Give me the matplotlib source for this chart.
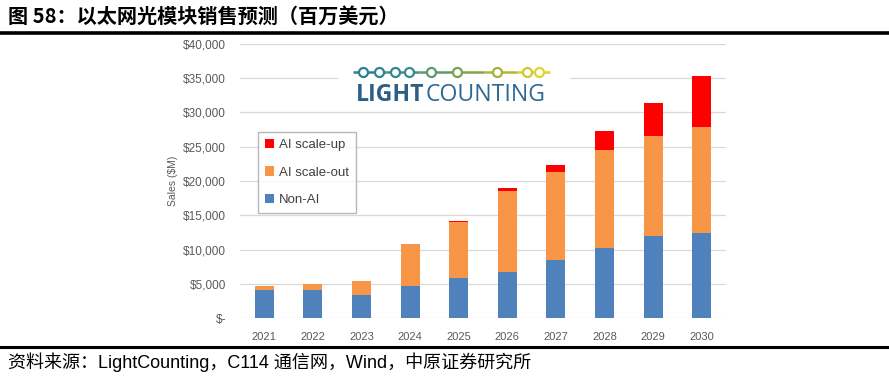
import numpy as np
import matplotlib.pyplot as plt
from matplotlib.patches import Rectangle

plt.rcParams['font.family'] = ['Liberation Sans', 'Noto Sans CJK SC', 'DejaVu Sans']

years = ['2021', '2022', '2023', '2024', '2025', '2026', '2027', '2028', '2029', '2030']
non_ai = [4100, 4150, 3300, 4650, 5800, 6700, 8500, 10200, 12000, 12400]
scale_out = [500, 850, 2150, 6100, 8200, 11900, 12850, 14300, 14600, 15500]
scale_up = [0, 0, 0, 100, 100, 450, 1000, 2750, 4800, 7400]

c_blue = '#4f81bd'
c_orange = '#f79646'
c_red = '#ff0000'
grey = '#595959'

W, H = 889, 380
fig = plt.figure(figsize=(W / 100, H / 100), dpi=100)

ax = fig.add_axes([240 / W, (H - 318) / H, (726 - 240) / W, (318 - 44) / H])
x = np.arange(len(years))
bw = 0.39
b1 = ax.bar(x, non_ai, bw, color=c_blue, zorder=3, label='Non-AI')
b2 = ax.bar(x, scale_out, bw, bottom=non_ai, color=c_orange, zorder=3, label='AI scale-out')
b3 = ax.bar(x, scale_up, bw, bottom=np.array(non_ai) + np.array(scale_out),
            color=c_red, zorder=3, label='AI scale-up')

ax.set_xlim(-0.5, len(years) - 0.5)
ax.set_ylim(0, 40000)
ticks = np.arange(0, 40001, 5000)
ax.set_yticks(ticks)
ax.set_yticklabels(['$-' if t == 0 else '${:,}'.format(t) for t in ticks])
ax.set_xticks(x)
ax.set_xticklabels(years)
ax.grid(axis='y', color='#d9d9d9', linewidth=0.9, zorder=0)
for s in ax.spines.values():
    s.set_visible(False)
ax.tick_params(length=0, labelsize=8.5, colors=grey)
ax.tick_params(axis='y', pad=10)
ax.tick_params(axis='x', pad=10, labelsize=8)
ax.set_ylabel('Sales ($M)', fontsize=7.5, color=grey, labelpad=4)

leg = ax.legend(handles=[b3, b2, b1], loc='upper left', bbox_to_anchor=(0.037, 0.68),
                borderaxespad=0, fontsize=9.5, frameon=True, fancybox=False, edgecolor='#a6a6a6',
                handlelength=0.7, handleheight=0.7, handletextpad=0.35,
                labelspacing=1.15, borderpad=0.55)
leg.get_frame().set_linewidth(1.0)
for t in leg.get_texts():
    t.set_color('#404040')

# overlay in pixel coordinates for header, footer and logo
ov = fig.add_axes([0, 0, 1, 1], zorder=5)
ov.set_xlim(0, W)
ov.set_ylim(H, 0)
ov.axis('off')
ov.patch.set_alpha(0)

ov.text(8, 16, '图 58：以太网光模块销售预测（百万美元）', fontsize=14.5, fontweight='bold',
        va='center', ha='left', family=['Noto Sans CJK SC'])
ov.plot([0, W], [32.5, 32.5], color='black', linewidth=2.6)
ov.plot([0, W], [347, 347], color='black', linewidth=2.2)
ov.text(8, 362, '资料来源：LightCounting，C114 通信网，Wind，中原证券研究所', fontsize=13,
        va='center', ha='left')

# LightCounting logo
ov.add_patch(Rectangle((338, 58), 232, 48, facecolor='white', edgecolor='none'))
line_x = [353, 550]
seg_cols = ['#2b7f97', '#3f8e8a', '#5e9a66', '#83a548', '#b1b835', '#dcd22a']
xs = np.linspace(line_x[0], line_x[1], len(seg_cols) + 1)
for i, col in enumerate(seg_cols):
    ov.plot([xs[i], xs[i + 1]], [71.5, 71.5], color=col, linewidth=1.8, solid_capstyle='butt')
circ_x = [363, 379, 395, 409, 431, 457, 497, 527, 539]
circ_c = ['#2b7f97', '#2f8393', '#34878f', '#3a8b8b', '#5a9970', '#78a352', '#a3b23a', '#d0c82c', '#e0d428']
for cx, cc in zip(circ_x, circ_c):
    ov.plot(cx, 71.5, 'o', markersize=6.5, markerfacecolor='white', markeredgecolor=cc, markeredgewidth=1.6)
t1 = ov.text(356, 101, 'LIGHT', fontsize=16.6, fontweight='bold', color='#2c5f86', va='baseline', ha='left',
             family=['Open Sans'])
ov.annotate('COUNTING', xy=(1, 0), xycoords=t1, xytext=(0.5, 0), textcoords='offset points',
            fontsize=16.6, color='#2c6a95', va='bottom', ha='left', family=['Open Sans'])

fig.savefig('out.png', dpi=100)
